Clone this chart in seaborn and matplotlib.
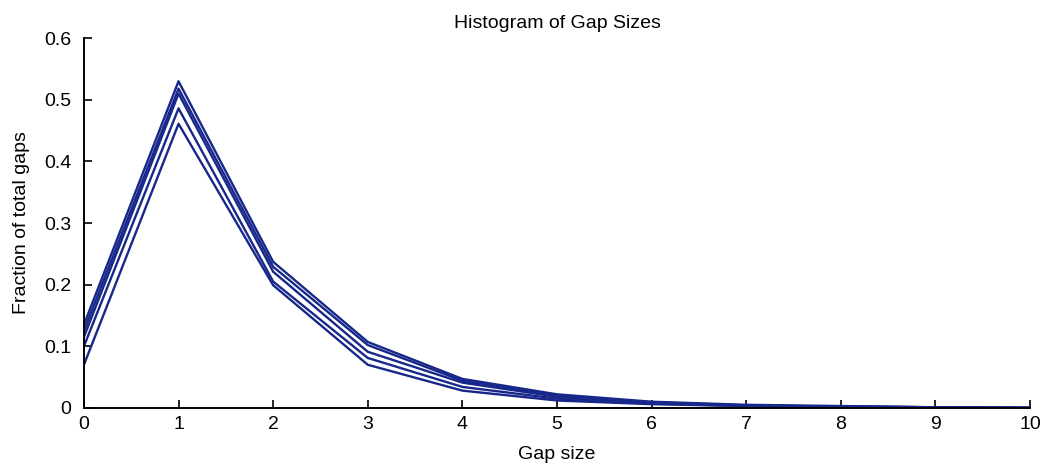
import numpy as np
import pandas as pd
import matplotlib
matplotlib.use("Agg")
import matplotlib.pyplot as plt
import seaborn as sns

gap_size = [0, 1, 2, 3, 4, 5, 6, 7, 8, 9, 10]
run_a = [0.135, 0.530, 0.237, 0.107, 0.047, 0.022, 0.010, 0.005, 0.003, 0.001, 0.000]
run_b = [0.125, 0.518, 0.229, 0.102, 0.044, 0.020, 0.009, 0.004, 0.002, 0.001, 0.000]
run_c = [0.115, 0.510, 0.221, 0.091, 0.041, 0.018, 0.008, 0.004, 0.002, 0.001, 0.000]
run_d = [0.100, 0.486, 0.205, 0.081, 0.034, 0.015, 0.007, 0.003, 0.002, 0.001, 0.000]
run_e = [0.070, 0.461, 0.199, 0.070, 0.028, 0.012, 0.006, 0.003, 0.001, 0.001, 0.000]

runs = {"a": run_a, "b": run_b, "c": run_c, "d": run_d, "e": run_e}
df = pd.concat(
    [pd.DataFrame({"gap": gap_size, "frac": v, "run": k}) for k, v in runs.items()],
    ignore_index=True,
)

sns.set_style("ticks")
plt.rcParams["font.family"] = ["Liberation Sans", "DejaVu Sans"]
plt.rcParams["xtick.direction"] = "in"
plt.rcParams["ytick.direction"] = "in"
plt.rcParams["text.color"] = "black"
plt.rcParams["axes.labelcolor"] = "black"

fig = plt.figure(figsize=(10.49, 4.71), dpi=100)
ax = fig.add_axes([0.080, 0.134, 0.902, 0.785])

line_col = "#17278a"
sns.lineplot(data=df, x="gap", y="frac", hue="run",
             palette=[line_col] * 5, linewidth=1.7, legend=False, ax=ax,
             estimator=None)

ax.set_xlim(0, 10)
ax.set_ylim(0, 0.6)
ax.set_xticks(range(0, 11))
ax.set_yticks([0, 0.1, 0.2, 0.3, 0.4, 0.5, 0.6])
ax.set_yticklabels(["0", "0.1", "0.2", "0.3", "0.4", "0.5", "0.6"])
ax.tick_params(labelsize=14, length=6, width=1.2, colors="black")
ax.tick_params(axis="x", pad=6)
ax.tick_params(axis="y", pad=9)
for s in ["top", "right"]:
    ax.spines[s].set_visible(False)
for s in ["left", "bottom"]:
    ax.spines[s].set_linewidth(1.4)
    ax.spines[s].set_color("black")

ax.set_xlabel("Gap size", fontsize=14, labelpad=9, color="black")
ax.set_ylabel("Fraction of total gaps", fontsize=14, labelpad=10, color="black")
ax.set_title("Histogram of Gap Sizes", fontsize=14, pad=7, color="black")

fig.savefig("out.png", dpi=100)
